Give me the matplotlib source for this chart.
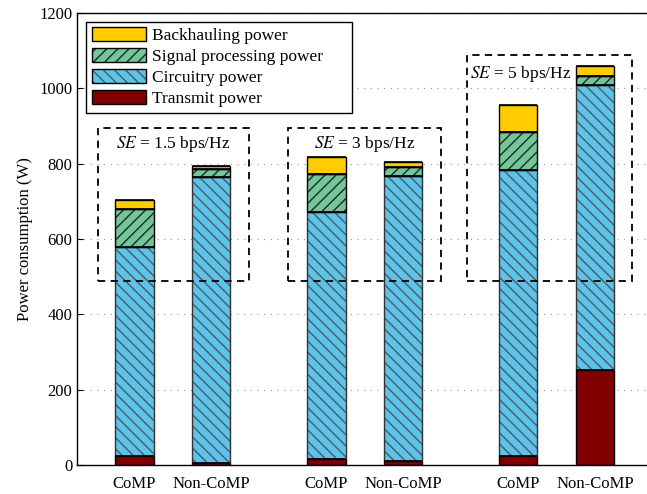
import numpy as np
import matplotlib.pyplot as plt
from matplotlib.patches import Patch, Rectangle

plt.rcParams['font.family'] = ['Liberation Serif', 'DejaVu Serif']
plt.rcParams['mathtext.fontset'] = 'stix'
plt.rcParams['hatch.linewidth'] = 1.0

# bar positions and labels
pos = [1, 3, 6, 8, 11, 13]
schemes = ['CoMP', 'Non-CoMP', 'CoMP', 'Non-CoMP', 'CoMP', 'Non-CoMP']

# power components in W (CoMP / Non-CoMP for SE = 1.5, 3, 5 bps/Hz)
transmit = [25, 5, 16, 10, 25, 252]
circuitry = [555, 760, 655, 758, 758, 758]
signal_proc = [99, 21, 101, 22, 100, 23]
backhaul = [24, 8, 45, 15, 74, 25]

# SE groups: (x0, x1, y0, y1) of the dashed frames and the label
se_labels = ['1.5', '3', '5']
frames = [(0.06, 3.97, 488, 894), (5.0, 8.98, 488, 894), (9.66, 13.97, 488, 1088)]

# name, values, fill, hatch, hatch colour, side edge colour
layers = [
    ('Transmit power', transmit, '#800000', None, 'black', 'black'),
    ('Circuitry power', circuitry, '#5EC3E8', '\\\\\\', '#4a5a66', '#333333'),
    ('Signal processing power', signal_proc, '#74C69A', '///', '#1a2a22', 'black'),
    ('Backhauling power', backhaul, '#FFCC00', None, 'black', 'black'),
]

fig = plt.figure(figsize=(6.47, 4.94), dpi=100)
ax = fig.add_axes([77 / 647, 29 / 494, 575.6 / 647, 452 / 494])

bottom = np.zeros(len(pos))
handles = []
for name, vals, col, hatch, hcol, ecol in layers:
    vals = np.array(vals, dtype=float)
    # fill + hatch first, then the outline on top
    ax.bar(pos, vals, 1.0, bottom=bottom, color=col, hatch=hatch,
           edgecolor=hcol, linewidth=0, zorder=2)
    ax.bar(pos, vals, 1.0, bottom=bottom, fill=False,
           edgecolor=ecol, linewidth=1.0, zorder=3)
    # black horizontal boundaries between segments
    ax.hlines(bottom + vals, np.array(pos) - 0.5, np.array(pos) + 0.5,
              color='black', linewidth=1.2, zorder=4)
    bottom += vals
    h = (Patch(facecolor=col, hatch=hatch, edgecolor=hcol, linewidth=0),
         Patch(fill=False, edgecolor='black', linewidth=1.0))
    handles.append((h, name))

handles = handles[::-1]
ax.legend([h for h, _ in handles], [n for _, n in handles],
          loc='upper left', bbox_to_anchor=(0.0156, 0.5, 0.462, 0.481),
          mode='expand', fontsize=12.5,
          frameon=True, fancybox=False, edgecolor='black', framealpha=1,
          handlelength=3.1, handleheight=0.87, labelspacing=0.22,
          handletextpad=0.35, borderpad=0.33, borderaxespad=0)
ax.get_legend().get_frame().set_linewidth(1.0)

for (x0, x1, y0, y1), se in zip(frames, se_labels):
    ax.add_patch(Rectangle((x0, y0), x1 - x0, y1 - y0, fill=False,
                           edgecolor='black', linestyle=(0, (4, 3)),
                           linewidth=1.3, zorder=5))
    txt = r'$\mathit{SE}$ = ' + se + ' bps/Hz'
    if se == '5':
        ax.text(x0 + 0.08, y1 - 50, txt, ha='left', va='center', fontsize=12.5)
    else:
        ax.text((x0 + x1) / 2, y1 - 42, txt, ha='center', va='center', fontsize=12.5)

ax.set_xlim(-0.5, 14.5)
ax.set_ylim(0, 1200)
ax.set_yticks(range(0, 1201, 200))
ax.set_xticks(pos)
ax.set_xticklabels(schemes)
ax.tick_params(axis='both', labelsize=12, direction='in', length=4)
ax.tick_params(axis='x', length=0, pad=8)
ax.set_ylabel('Power consumption (W)', fontsize=12)
ax.yaxis.grid(True, linestyle=(0, (1, 5)), color='#999999', linewidth=0.8)
ax.set_axisbelow(True)
for s in ax.spines.values():
    s.set_linewidth(1.0)

fig.savefig('out.png', dpi=100)
